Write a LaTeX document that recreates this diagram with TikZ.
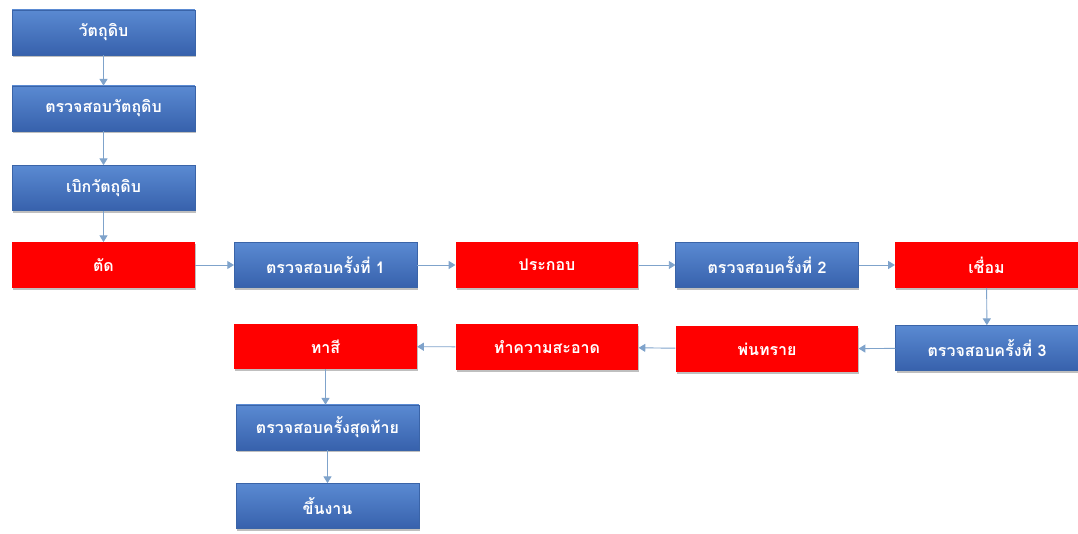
\documentclass[tikz,border=0pt]{standalone}
\usepackage{fontspec}
\newfontfamily\thaifont[Script=Thai]{Loma}
\usetikzlibrary{arrows.meta,shadows}
\definecolor{boxred}{HTML}{FF0000}
\definecolor{bluetop}{HTML}{5A8AD2}
\definecolor{bluebot}{HTML}{3761AC}
\definecolor{blueedge}{HTML}{3A64A8}
\definecolor{arrowc}{HTML}{7FA3CB}
\tikzset{
  base/.style={minimum width=137pt, minimum height=34pt, inner sep=0pt,
    font=\thaifont\bfseries\fontsize{12}{14}\selectfont, text=white,
    drop shadow={shadow xshift=0.8pt, shadow yshift=-1.5pt, fill=black, opacity=0.25}},
  bluebox/.style={base, top color=bluetop, bottom color=bluebot, draw=blueedge, line width=0.3pt},
  redbox/.style={base, fill=boxred},
  flow/.style={draw=arrowc, line width=0.7pt, -{Triangle[width=6pt,length=5pt]}}
}
\begin{document}
\begin{tikzpicture}[x=0.75pt,y=-0.75pt]
\useasboundingbox (0,0) rectangle (1078,534);
\node[bluebox] (a1) at (103.5,32.5) {วัตถุดิบ};
\node[bluebox] (a2) at (103.5,108.5) {ตรวจสอบวัตถุดิบ};
\node[bluebox] (a3) at (103.5,188) {เบิกวัตถุดิบ};
\node[redbox]  (a4) at (103.5,265) {ตัด};
\node[bluebox] (b1) at (325.5,265) {ตรวจสอบครั้งที่ 1};
\node[redbox]  (c1) at (547,265) {ประกอบ};
\node[bluebox] (d1) at (767,265) {ตรวจสอบครั้งที่ 2};
\node[redbox]  (e1) at (986.5,265) {เชื่อม};
\node[bluebox] (e2) at (987,348) {ตรวจสอบครั้งที่ 3};
\node[redbox]  (d2) at (767,349) {พ่นทราย};
\node[redbox]  (c2) at (547,347) {ทำความสะอาด};
\node[redbox]  (b2) at (325.5,346.5) {ทาสี};
\node[bluebox] (b3) at (327.5,427.5) {ตรวจสอบครั้งสุดท้าย};
\node[bluebox] (b4) at (327.5,506) {ขึ้นงาน};
\draw[flow] (a1) -- (a2);
\draw[flow] (a2) -- (a3);
\draw[flow] (a3) -- (a4);
\draw[flow] (a4) -- (b1);
\draw[flow] (b1) -- (c1);
\draw[flow] (c1) -- (d1);
\draw[flow] (d1) -- (e1);
\draw[flow] (e1) -- (e2);
\draw[flow] (e2) -- (d2);
\draw[flow] (d2) -- (c2);
\draw[flow] (c2) -- (b2);
\draw[flow] (b2.south) -- (b2.south |- b3.north);
\draw[flow] (b3) -- (b4);
\end{tikzpicture}
\end{document}
